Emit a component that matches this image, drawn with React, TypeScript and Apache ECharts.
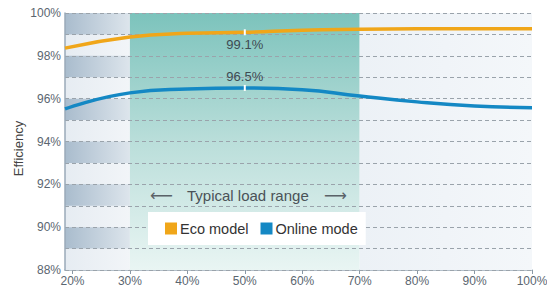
import React, { useEffect, useRef } from "react";
import * as echarts from "echarts";

const axisStart = 18.7;
const loadPoints = [18.7, 30, 40, 50, 60, 70, 80, 90, 100];
const xTickValues = [20, 30, 40, 50, 60, 70, 80, 90, 100];
const ecoModel = [98.36, 98.88, 99.05, 99.1, 99.2, 99.24, 99.26, 99.27, 99.27];
const onlineMode = [95.52, 96.27, 96.45, 96.5, 96.42, 96.12, 95.85, 95.66, 95.58];
const peakLoad = 50;
const typicalRange = [30, 70];
const lowRange = [18.7, 30];
const highRange = [70, 100];
const darkBands = [
  [89, 90],
  [91, 92],
  [93, 94],
  [95, 96],
  [97, 98],
  [99, 100],
];
const yMin = 88;
const yMax = 100;

const FONT = "'Liberation Sans Narrow', 'Liberation Sans', Arial, sans-serif";
const FONT2 = "'Liberation Sans', Arial, sans-serif";

function buildSeriesData(vals: number[], labelPos: string) {
  return loadPoints.map((x, i) => {
    if (x === peakLoad) {
      return {
        value: [x, vals[i]],
        symbol: "rect",
        symbolSize: [2, 6],
        itemStyle: { color: "#ffffff", borderWidth: 0 },
        label: {
          show: true,
          position: labelPos,
          distance: labelPos === "top" ? 2 : 3,
          formatter: (p: any) => p.value[1].toFixed(1) + "%",
          color: "#3e4a52",
          fontSize: 13,
          fontFamily: FONT,
        },
      };
    }
    return { value: [x, vals[i]], symbol: "none" };
  });
}

export default function App() {
  const ref = useRef<HTMLDivElement>(null);
  useEffect(() => {
    if (!ref.current) return;
    const chart = echarts.init(ref.current, null, { renderer: "svg" });
    const hGrad = (a: string, b: string) =>
      new echarts.graphic.LinearGradient(0, 0, 1, 0, [
        { offset: 0, color: a },
        { offset: 1, color: b },
      ]);
    const vGrad = (stops: [number, string][]) =>
      new echarts.graphic.LinearGradient(
        0,
        0,
        0,
        1,
        stops.map(([offset, color]) => ({ offset, color }))
      );
    const areas: any[] = [
      [
        { xAxis: lowRange[0], yAxis: yMin, itemStyle: { color: hGrad("#e6ecf2", "#f2f5f8") } },
        { xAxis: lowRange[1], yAxis: yMax },
      ],
      ...darkBands.map(([lo, hi]) => [
        { xAxis: lowRange[0], yAxis: lo, itemStyle: { color: hGrad("#a9bccd", "#dde5ec") } },
        { xAxis: lowRange[1], yAxis: hi },
      ]),
      [
        {
          xAxis: typicalRange[0],
          yAxis: yMin,
          itemStyle: {
            color: vGrad([
              [0, "#7cc3bc"],
              [0.5, "#badeda"],
              [1, "#e9f5f3"],
            ]),
          },
        },
        { xAxis: typicalRange[1], yAxis: yMax },
      ],
      [
        { xAxis: highRange[0], yAxis: yMin, itemStyle: { color: hGrad("#ecf1f6", "#f4f7fa") } },
        { xAxis: highRange[1], yAxis: yMax },
      ],
    ];
    chart.setOption({
      animation: false,
      backgroundColor: "#ffffff",
      grid: { left: 65, right: 15, top: 13, bottom: 21, outerBoundsMode: "none" },
      legend: {
        left: 148,
        top: 212,
        backgroundColor: "#ffffff",
        padding: [9, 8, 9, 17],
        itemWidth: 12,
        itemHeight: 12,
        itemGap: 12,
        icon: "rect",
        textStyle: { fontSize: 14.5, color: "#333", fontFamily: FONT2, padding: [0, 0, 0, -2] },
        data: ["Eco model", "Online mode"],
      },
      xAxis: {
        type: "value",
        min: axisStart,
        max: 100,
        axisLine: { show: true, lineStyle: { color: "#9aaab8", width: 1.5 } },
        axisTick: {
          show: true,
          length: 4,
          customValues: xTickValues,
          lineStyle: { color: "#8a98a5" },
        },
        splitLine: { show: false },
        axisLabel: {
          customValues: xTickValues,
          formatter: (v: number) => v + "%",
          color: "#5b6670",
          fontSize: 12,
          fontFamily: FONT,
          margin: 5,
        },
      },
      yAxis: {
        type: "value",
        min: yMin,
        max: yMax,
        interval: 1,
        z: 3,
        name: "Efficiency",
        nameLocation: "middle",
        nameGap: 40,
        nameMoveOverlap: false,
        nameTextStyle: { fontSize: 13, color: "#444", fontFamily: FONT2, padding: [0, 14, 0, 0] },
        axisLine: { show: true, lineStyle: { color: "#9aaab8", width: 1.5 } },
        axisTick: { show: false },
        splitLine: { show: true, lineStyle: { color: "#9aa3ab", type: [4, 3], width: 1 } },
        axisLabel: {
          formatter: (v: number) => (v % 2 === 0 ? v + "%" : ""),
          color: "#5b6670",
          fontSize: 12,
          fontFamily: FONT,
          margin: 4,
        },
      },
      graphic: [
        {
          type: "text",
          left: 187,
          top: 188,
          z: 10,
          style: { text: "Typical load range", fontSize: 15, fill: "#4a5258", fontFamily: FONT2 },
        },
        {
          type: "text",
          left: 150,
          top: 187,
          z: 10,
          style: { text: "⟵", fontSize: 16, fill: "#5a6268", fontFamily: "DejaVu Sans" },
        },
        {
          type: "text",
          left: 324,
          top: 187,
          z: 10,
          style: { text: "⟶", fontSize: 16, fill: "#5a6268", fontFamily: "DejaVu Sans" },
        },
      ],
      series: [
        {
          name: "bg",
          type: "line",
          data: [],
          z: 1,
          silent: true,
          markArea: { silent: true, data: areas },
        },
        {
          name: "Eco model",
          type: "line",
          smooth: true,
          z: 5,
          showSymbol: true,
          color: "#f0a619",
          lineStyle: { width: 3.5, color: "#f0a619" },
          data: buildSeriesData(ecoModel, "bottom"),
        },
        {
          name: "Online mode",
          type: "line",
          smooth: true,
          z: 5,
          showSymbol: true,
          color: "#1488c4",
          lineStyle: { width: 3.5, color: "#1488c4" },
          data: buildSeriesData(onlineMode, "top"),
        },
      ],
    });
    return () => chart.dispose();
  }, []);
  return (
    <div
      ref={ref}
      style={{ position: "fixed", left: 0, top: 0, width: 547, height: 291 }}
    />
  );
}
